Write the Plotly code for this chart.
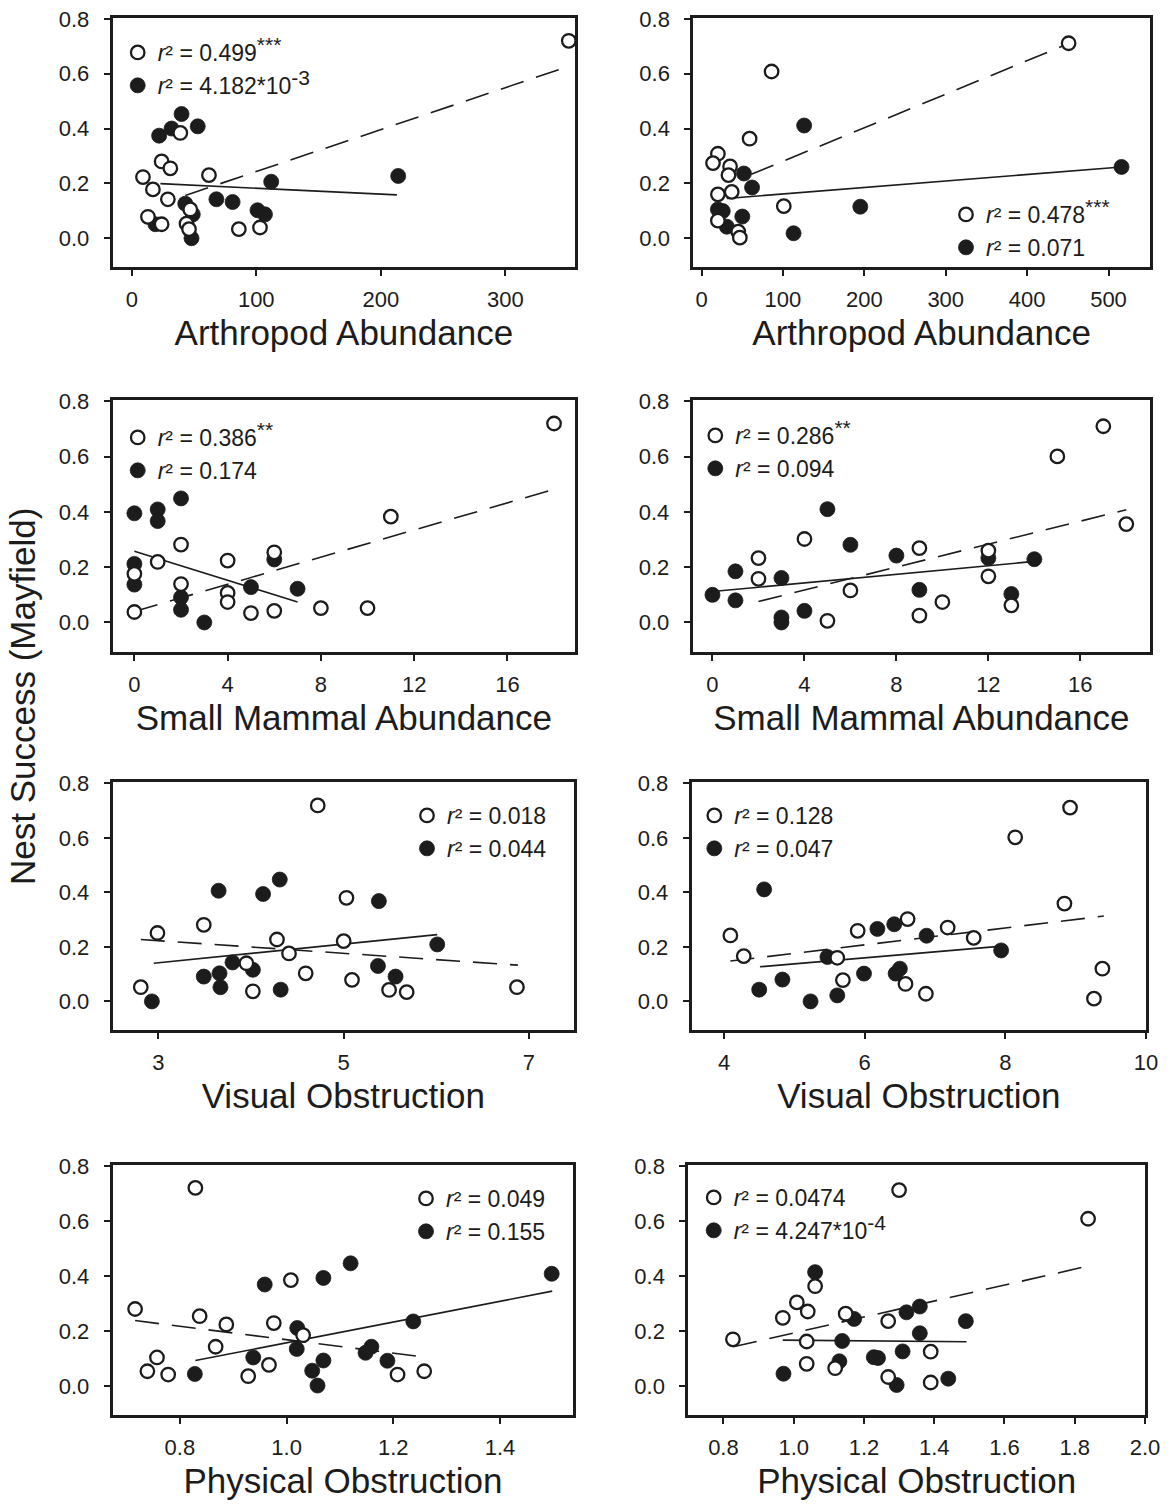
import plotly.graph_objects as go

# ---------------- data ----------------
# Panel 1: Arthropod abundance (left)
p1_open_x = [351, 24, 31, 9, 62, 17, 29, 39, 13, 24, 47, 44, 46, 86, 103]
p1_open_y = [0.72, 0.28, 0.255, 0.223, 0.23, 0.178, 0.142, 0.384, 0.078, 0.051, 0.105, 0.053, 0.033, 0.033, 0.039]
p1_fill_x = [40, 32, 22, 53, 112, 214, 68, 81, 43, 101, 107, 49, 48, 19]
p1_fill_y = [0.453, 0.40, 0.374, 0.408, 0.206, 0.227, 0.142, 0.132, 0.126, 0.102, 0.087, 0.087, 0.0, 0.051]
p1_open_fit_x = [43, 351]
p1_open_fit_y = [0.156, 0.627]
p1_fill_fit_x = [23, 213]
p1_fill_fit_y = [0.199, 0.158]

# Panel 2: Arthropod abundance (right)
p2_open_x = [451, 86, 59, 20, 14, 35, 33, 20, 37, 101, 20, 45, 47]
p2_open_y = [0.711, 0.608, 0.363, 0.308, 0.274, 0.262, 0.23, 0.16, 0.169, 0.117, 0.064, 0.024, 0.002]
p2_fill_x = [126, 516, 52, 62, 195, 20, 26, 50, 31, 113]
p2_fill_y = [0.411, 0.26, 0.236, 0.185, 0.115, 0.105, 0.099, 0.079, 0.042, 0.018]
p2_open_fit_x = [61, 451]
p2_open_fit_y = [0.233, 0.71]
p2_fill_fit_x = [31, 516]
p2_fill_fit_y = [0.145, 0.26]

# Panel 3: Small mammal abundance (left)
p3_open_x = [18, 11, 2, 1, 4, 6, 0, 2, 4, 4, 0, 5, 6, 8, 10]
p3_open_y = [0.72, 0.383, 0.282, 0.219, 0.224, 0.254, 0.176, 0.139, 0.107, 0.074, 0.038, 0.034, 0.042, 0.052, 0.052]
p3_fill_x = [2, 0, 1, 1, 0, 0, 6, 5, 7, 2, 2, 3]
p3_fill_y = [0.449, 0.395, 0.409, 0.367, 0.212, 0.137, 0.228, 0.128, 0.122, 0.091, 0.046, 0.0]
p3_open_fit_x = [0, 18]
p3_open_fit_y = [0.04, 0.482]
p3_fill_fit_x = [0, 7]
p3_fill_fit_y = [0.258, 0.074]

# Panel 4: Small mammal abundance (right)
p4_open_x = [17, 15, 18, 4, 2, 2, 6, 9, 12, 12, 10, 9, 13, 5]
p4_open_y = [0.71, 0.601, 0.356, 0.302, 0.233, 0.158, 0.116, 0.269, 0.26, 0.167, 0.074, 0.025, 0.062, 0.006]
p4_fill_x = [5, 6, 8, 14, 12, 1, 3, 0, 1, 9, 13, 4, 3, 3]
p4_fill_y = [0.41, 0.281, 0.242, 0.229, 0.233, 0.185, 0.161, 0.1, 0.08, 0.118, 0.103, 0.042, 0.018, 0.0]
p4_open_fit_x = [2, 18]
p4_open_fit_y = [0.076, 0.408]
p4_fill_fit_x = [0, 14]
p4_fill_fit_y = [0.112, 0.221]

# Panel 5: Visual obstruction (left)
p5_open_x = [4.72, 5.03, 3.49, 2.99, 4.28, 5.0, 4.41, 3.95, 4.59, 5.09, 2.81, 4.02, 5.49, 5.68, 6.87]
p5_open_y = [0.719, 0.38, 0.281, 0.251, 0.227, 0.221, 0.176, 0.14, 0.103, 0.079, 0.052, 0.037, 0.042, 0.034, 0.052]
p5_fill_x = [4.31, 3.65, 4.13, 5.38, 6.01, 3.80, 4.02, 5.37, 3.66, 3.49, 5.56, 3.67, 4.32, 2.93]
p5_fill_y = [0.447, 0.406, 0.394, 0.368, 0.209, 0.143, 0.116, 0.13, 0.103, 0.091, 0.091, 0.052, 0.043, 0.0]
p5_open_fit_x = [2.81, 6.88]
p5_open_fit_y = [0.227, 0.133]
p5_fill_fit_x = [2.95, 6.01]
p5_fill_fit_y = [0.14, 0.245]

# Panel 6: Visual obstruction (right)
p6_open_x = [8.92, 8.14, 8.84, 6.61, 5.90, 7.18, 7.55, 4.09, 4.28, 5.61, 5.69, 6.58, 6.87, 9.38, 9.26]
p6_open_y = [0.711, 0.602, 0.359, 0.302, 0.259, 0.271, 0.233, 0.242, 0.166, 0.16, 0.078, 0.064, 0.028, 0.12, 0.01]
p6_fill_x = [4.57, 6.18, 6.42, 6.88, 7.94, 5.47, 6.50, 6.44, 5.99, 4.83, 4.50, 5.61, 5.23]
p6_fill_y = [0.411, 0.266, 0.283, 0.241, 0.187, 0.163, 0.12, 0.102, 0.102, 0.08, 0.043, 0.022, 0.0]
p6_open_fit_x = [4.09, 9.40]
p6_open_fit_y = [0.148, 0.313]
p6_fill_fit_x = [4.51, 7.91]
p6_fill_fit_y = [0.127, 0.202]

# Panel 7: Physical obstruction (left)
p7_open_x = [0.829, 1.008, 0.716, 0.837, 0.887, 0.976, 1.031, 0.867, 0.757, 0.967, 0.739, 0.778, 0.928, 1.208, 1.258]
p7_open_y = [0.72, 0.385, 0.28, 0.254, 0.224, 0.229, 0.185, 0.143, 0.104, 0.077, 0.054, 0.042, 0.036, 0.042, 0.054]
p7_fill_x = [1.497, 1.12, 1.069, 0.959, 1.2375, 1.02, 1.019, 1.159, 1.148, 0.9375, 1.189, 1.069, 1.048, 0.828, 1.058]
p7_fill_y = [0.408, 0.446, 0.393, 0.369, 0.235, 0.211, 0.135, 0.143, 0.121, 0.104, 0.092, 0.093, 0.056, 0.044, 0.002]
p7_open_fit_x = [0.716, 1.259]
p7_open_fit_y = [0.238, 0.105]
p7_fill_fit_x = [0.829, 1.498]
p7_fill_fit_y = [0.093, 0.345]

# Panel 8: Physical obstruction (right)
p8_open_x = [1.30, 1.838, 1.061, 1.009, 1.040, 0.969, 1.148, 1.269, 0.827, 1.037, 1.39, 1.037, 1.118, 1.269, 1.39]
p8_open_y = [0.712, 0.608, 0.363, 0.304, 0.271, 0.248, 0.263, 0.236, 0.170, 0.162, 0.125, 0.081, 0.065, 0.033, 0.013]
p8_fill_x = [1.061, 1.321, 1.359, 1.49, 1.172, 1.359, 1.138, 1.31, 1.228, 1.24, 1.13, 0.971, 1.44, 1.293]
p8_fill_y = [0.414, 0.268, 0.289, 0.236, 0.244, 0.192, 0.164, 0.126, 0.105, 0.102, 0.09, 0.045, 0.027, 0.004]
p8_open_fit_x = [0.828, 1.824]
p8_open_fit_y = [0.143, 0.432]
p8_fill_fit_x = [0.969, 1.492]
p8_fill_fit_y = [0.167, 0.161]

x_titles = ["Arthropod Abundance", "Arthropod Abundance",
            "Small Mammal Abundance", "Small Mammal Abundance",
            "Visual Obstruction", "Visual Obstruction",
            "Physical Obstruction", "Physical Obstruction"]
SUP = "<sup><span style='font-size:21px'>{}</span></sup>"
open_labels = ["<i>r</i>² = 0.499" + SUP.format("***"), "<i>r</i>² = 0.478" + SUP.format("***"),
               "<i>r</i>² = 0.386" + SUP.format("**"), "<i>r</i>² = 0.286" + SUP.format("**"),
               "<i>r</i>² = 0.018", "<i>r</i>² = 0.128",
               "<i>r</i>² = 0.049", "<i>r</i>² = 0.0474"]
fill_labels = ["<i>r</i>² = 4.182*10" + SUP.format("-3"), "<i>r</i>² = 0.071",
               "<i>r</i>² = 0.174", "<i>r</i>² = 0.094",
               "<i>r</i>² = 0.044", "<i>r</i>² = 0.047",
               "<i>r</i>² = 0.155", "<i>r</i>² = 4.247*10" + SUP.format("-4")]
x_tickvals = [[0, 100, 200, 300], [0, 100, 200, 300, 400, 500],
              [0, 4, 8, 12, 16], [0, 4, 8, 12, 16],
              [3, 5, 7], [4, 6, 8, 10],
              [0.8, 1.0, 1.2, 1.4], [0.8, 1.0, 1.2, 1.4, 1.6, 1.8, 2.0]]
x_tickfmt = ["d", "d", "d", "d", "d", "d", ".1f", ".1f"]
y_tickvals = [0.0, 0.2, 0.4, 0.6, 0.8]
y_title = "Nest Success (Mayfield)"

# ---------------- layout geometry (pixels) ----------------
W, H = 1170, 1505
# (left, right, top, bottom) of each plot box in pixels
boxes = [(112.7, 575, 17.5, 267), (693.3, 1150, 17.5, 267),
         (112.7, 575, 400, 651.5), (692.7, 1150, 400, 651.5),
         (112.7, 574, 782, 1030), (691.7, 1146, 782, 1030),
         (112.7, 573.3, 1164.5, 1415), (688.3, 1145, 1164.5, 1415)]
x_ranges = [[-15.3, 356], [-10.2, 551], [-0.93, 18.9], [-0.86, 19.03],
            [2.507, 7.486], [3.54, 10.0], [0.674, 1.5375], [0.70, 2.0]]
y_range = [-0.105, 0.805]
# legend anchor: (symbol-centre x, first-row centre y) in pixels
legend_pos = [(141.7, 52), (970, 214), (141.7, 437), (719.3, 435),
              (431, 815), (718.3, 815), (430, 1198), (717.7, 1197)]

panels = [
    (p1_open_x, p1_open_y, p1_fill_x, p1_fill_y, p1_open_fit_x, p1_open_fit_y, p1_fill_fit_x, p1_fill_fit_y),
    (p2_open_x, p2_open_y, p2_fill_x, p2_fill_y, p2_open_fit_x, p2_open_fit_y, p2_fill_fit_x, p2_fill_fit_y),
    (p3_open_x, p3_open_y, p3_fill_x, p3_fill_y, p3_open_fit_x, p3_open_fit_y, p3_fill_fit_x, p3_fill_fit_y),
    (p4_open_x, p4_open_y, p4_fill_x, p4_fill_y, p4_open_fit_x, p4_open_fit_y, p4_fill_fit_x, p4_fill_fit_y),
    (p5_open_x, p5_open_y, p5_fill_x, p5_fill_y, p5_open_fit_x, p5_open_fit_y, p5_fill_fit_x, p5_fill_fit_y),
    (p6_open_x, p6_open_y, p6_fill_x, p6_fill_y, p6_open_fit_x, p6_open_fit_y, p6_fill_fit_x, p6_fill_fit_y),
    (p7_open_x, p7_open_y, p7_fill_x, p7_fill_y, p7_open_fit_x, p7_open_fit_y, p7_fill_fit_x, p7_fill_fit_y),
    (p8_open_x, p8_open_y, p8_fill_x, p8_fill_y, p8_open_fit_x, p8_open_fit_y, p8_fill_fit_x, p8_fill_fit_y),
]

FONT = "Liberation Sans, Arial, sans-serif"
INK = "#1c1c1c"

fig = go.Figure()
layout = dict(width=W, height=H, margin=dict(l=0, r=0, t=0, b=0),
              paper_bgcolor="white", plot_bgcolor="white",
              font=dict(family=FONT, color=INK), showlegend=True)

for i, (ox, oy, fx, fy, ofx, ofy, ffx, ffy) in enumerate(panels):
    k = i + 1
    xa = "x" if k == 1 else f"x{k}"
    ya = "y" if k == 1 else f"y{k}"
    lg = "legend" if k == 1 else f"legend{k}"
    fig.add_trace(go.Scatter(x=ffx, y=ffy, mode="lines", xaxis=xa, yaxis=ya,
                             line=dict(color=INK, width=1.6), showlegend=False,
                             hoverinfo="skip"))
    fig.add_trace(go.Scatter(x=ofx, y=ofy, mode="lines", xaxis=xa, yaxis=ya,
                             line=dict(color=INK, width=1.6, dash="24px,13px"),
                             showlegend=False, hoverinfo="skip"))
    fig.add_trace(go.Scatter(x=fx, y=fy, mode="markers", xaxis=xa, yaxis=ya,
                             marker=dict(symbol="circle", size=15, color=INK,
                                         line=dict(color=INK, width=0.8)),
                             name=fill_labels[i], legend=lg, legendrank=2,
                             legendgroup=f"f{k}"))
    fig.add_trace(go.Scatter(x=ox, y=oy, mode="markers", xaxis=xa, yaxis=ya,
                             marker=dict(symbol="circle", size=13.5, color="white",
                                         line=dict(color=INK, width=2.3)),
                             name=open_labels[i], legend=lg, legendrank=1,
                             legendgroup=f"o{k}"))

    l, r, t, b = boxes[i]
    xkey = "xaxis" if k == 1 else f"xaxis{k}"
    ykey = "yaxis" if k == 1 else f"yaxis{k}"
    layout[xkey] = dict(domain=[l / W, r / W], anchor=ya, range=x_ranges[i],
                        tickvals=x_tickvals[i], tickformat=x_tickfmt[i],
                        showgrid=False, zeroline=False, showline=True, mirror=True,
                        linewidth=3, linecolor=INK, ticks="outside", ticklen=6,
                        tickwidth=2, tickcolor=INK, ticklabelstandoff=5,
                        tickfont=dict(size=22, color=INK, family=FONT),
                        title=dict(text=x_titles[i], standoff=10,
                                   font=dict(size=35, color=INK, family=FONT)),
                        automargin=False)
    layout[ykey] = dict(domain=[1 - b / H, 1 - t / H], anchor=xa, range=y_range,
                        tickvals=y_tickvals, tickformat=".1f",
                        showgrid=False, zeroline=False, showline=True, mirror=True,
                        linewidth=3, linecolor=INK, ticks="outside", ticklen=6,
                        tickwidth=2, tickcolor=INK, ticklabelstandoff=10,
                        tickfont=dict(size=22, color=INK, family=FONT),
                        automargin=False)
    sx, sy = legend_pos[i]
    layout[lg] = dict(x=(sx - 24) / W, y=1 - (sy - 21) / H, xanchor="left", yanchor="top",
                      bgcolor="rgba(0,0,0,0)", borderwidth=0, tracegroupgap=0,
                      traceorder="grouped", itemsizing="trace",
                      font=dict(size=23, color=INK, family=FONT))

layout["annotations"] = [dict(text=y_title, x=22 / W, y=1 - 697 / H, xref="paper", yref="paper",
                              textangle=-90, showarrow=False, xanchor="center", yanchor="middle",
                              font=dict(size=35, color=INK, family=FONT))]

fig.update_layout(**layout)
fig.write_html("out.html")
